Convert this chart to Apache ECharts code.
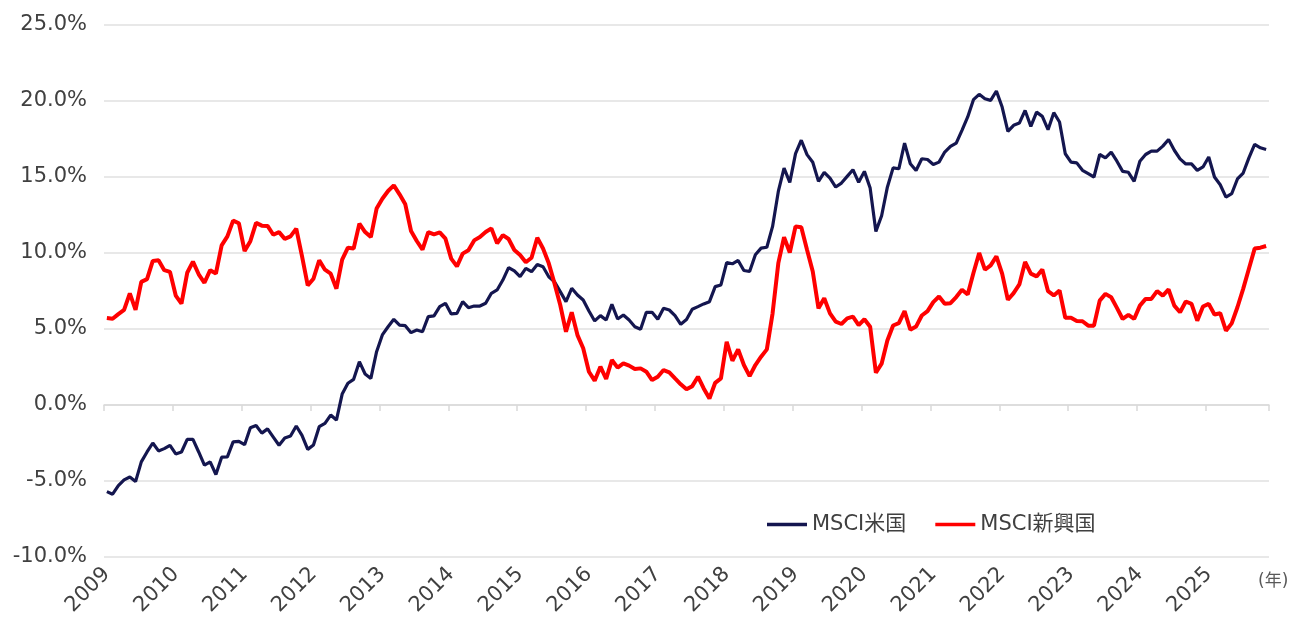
<!DOCTYPE html>
<html>
<head>
<meta charset="utf-8">
<script src="https://cdn.jsdelivr.net/npm/echarts@6/dist/echarts.min.js"></script>
<style>
html,body{margin:0;padding:0;background:#fff;}
#main{width:1290px;height:621px;}
</style>
</head>
<body>
<div id="main"></div>
<script>
// 月次データ 2009/01 ～ 2025/11 (%)
var years = [2009, 2010, 2011, 2012, 2013, 2014, 2015, 2016, 2017, 2018, 2019, 2020, 2021, 2022, 2023, 2024, 2025];

var msciUS = [
    -5.70, -5.87, -5.30, -4.93, -4.74, -5.04, -3.74, -3.09, -2.50, -3.02,
    -2.87, -2.65, -3.22, -3.09, -2.26, -2.26, -3.09, -3.96, -3.74, -4.57,
    -3.43, -3.41, -2.43, -2.39, -2.61, -1.50, -1.35, -1.85, -1.57, -2.11,
    -2.65, -2.17, -2.04, -1.38, -2.00, -2.92, -2.63, -1.43, -1.21, -0.66,
    -0.99, 0.72, 1.43, 1.69, 2.85, 2.04, 1.75, 3.51, 4.61, 5.15,
    5.64, 5.26, 5.22, 4.76, 4.93, 4.82, 5.81, 5.86, 6.47, 6.69,
    5.99, 6.03, 6.80, 6.40, 6.51, 6.51, 6.69, 7.35, 7.57, 8.22,
    9.04, 8.82, 8.44, 8.99, 8.77, 9.25, 9.10, 8.44, 8.11, 7.46,
    6.80, 7.68, 7.24, 6.91, 6.18, 5.53, 5.88, 5.59, 6.62, 5.66,
    5.92, 5.59, 5.15, 4.98, 6.10, 6.10, 5.64, 6.36, 6.25, 5.88,
    5.31, 5.62, 6.30, 6.47, 6.65, 6.80, 7.79, 7.90, 9.37, 9.29,
    9.51, 8.85, 8.78, 9.88, 10.32, 10.38, 11.75, 14.05, 15.59, 14.65,
    16.54, 17.42, 16.47, 15.97, 14.71, 15.31, 14.93, 14.34, 14.60, 15.04,
    15.48, 14.65, 15.37, 14.27, 11.42, 12.45, 14.33, 15.60, 15.54, 17.23,
    15.87, 15.43, 16.20, 16.15, 15.82, 15.98, 16.64, 17.01, 17.23, 18.07,
    18.95, 20.09, 20.44, 20.15, 20.04, 20.66, 19.60, 18.00, 18.40, 18.55,
    19.38, 18.33, 19.27, 18.99, 18.11, 19.23, 18.62, 16.53, 15.98, 15.93,
    15.44, 15.22, 15.00, 16.48, 16.26, 16.63, 16.04, 15.37, 15.31, 14.71,
    16.04, 16.48, 16.70, 16.70, 17.03, 17.47, 16.76, 16.19, 15.86, 15.86,
    15.44, 15.66, 16.32, 15.00, 14.49, 13.68, 13.90, 14.87, 15.26, 16.26,
    17.14, 16.92, 16.81
];

var msciEM = [
    5.72, 5.67, 5.98, 6.26, 7.35, 6.26, 8.10, 8.28, 9.48, 9.52,
    8.87, 8.76, 7.20, 6.67, 8.70, 9.43, 8.60, 8.04, 8.87, 8.65,
    10.50, 11.09, 12.13, 11.96, 10.13, 10.78, 11.98, 11.80, 11.78, 11.20,
    11.37, 10.93, 11.09, 11.60, 9.80, 7.87, 8.31, 9.52, 8.90, 8.64,
    7.65, 9.56, 10.35, 10.29, 11.93, 11.38, 11.05, 12.92, 13.57, 14.08,
    14.45, 13.86, 13.20, 11.45, 10.79, 10.22, 11.38, 11.23, 11.36, 10.94,
    9.63, 9.12, 9.96, 10.18, 10.83, 11.05, 11.38, 11.62, 10.64, 11.18,
    10.92, 10.20, 9.87, 9.39, 9.69, 11.00, 10.30, 9.32, 8.00, 6.58,
    4.82, 6.10, 4.60, 3.73, 2.19, 1.60, 2.52, 1.71, 2.96, 2.46,
    2.74, 2.59, 2.37, 2.41, 2.19, 1.64, 1.86, 2.30, 2.15, 1.75,
    1.36, 1.03, 1.24, 1.86, 1.09, 0.43, 1.46, 1.75, 4.16, 2.91,
    3.66, 2.63, 1.90, 2.63, 3.18, 3.66, 6.03, 9.33, 11.04, 10.03,
    11.75, 11.70, 10.21, 8.78, 6.36, 7.02, 6.03, 5.48, 5.33, 5.70,
    5.81, 5.26, 5.64, 5.15, 2.12, 2.72, 4.24, 5.23, 5.38, 6.18,
    4.95, 5.16, 5.89, 6.18, 6.77, 7.14, 6.66, 6.70, 7.10, 7.58,
    7.27, 8.68, 10.00, 8.90, 9.19, 9.78, 8.64, 6.92, 7.36, 7.93,
    9.41, 8.64, 8.46, 8.92, 7.49, 7.21, 7.54, 5.74, 5.74, 5.53,
    5.51, 5.22, 5.22, 6.87, 7.31, 7.09, 6.39, 5.66, 5.93, 5.66,
    6.54, 6.98, 6.98, 7.49, 7.20, 7.60, 6.54, 6.10, 6.81, 6.65,
    5.55, 6.48, 6.65, 5.95, 6.04, 4.89, 5.37, 6.43, 7.64, 8.96,
    10.29, 10.35, 10.46
];

var yTicks = [-10, -5, 0, 5, 10, 15, 20, 25];

var months = [];
for (var i = 0; i < years.length; i++) {
    for (var m = 1; m <= 12; m++) {
        months.push(years[i] + '/' + (m < 10 ? '0' + m : m));
    }
}
months = months.slice(0, msciUS.length);

var font = "'DejaVu Sans', 'Noto Sans CJK JP', sans-serif";
var chartDom = document.getElementById('main');
var myChart = echarts.init(chartDom);
var option;

option = {
    animation: false,
    textStyle: { fontFamily: font },
    grid: {
        left: 104,
        right: 21,
        top: 25,
        bottom: 64
    },
    legend: {
        left: 762,
        top: 509,
        icon: 'rect',
        itemWidth: 40,
        itemHeight: 3.5,
        itemGap: 29,
        textStyle: { fontSize: 21, color: '#404040', fontFamily: font },
        data: ['MSCI米国', 'MSCI新興国']
    },
    xAxis: [
        {
            type: 'category',
            data: months,
            boundaryGap: true,
            position: 'bottom',
            axisLine: { show: false, onZero: false },
            axisTick: { show: false },
            axisLabel: {
                interval: 11,
                rotate: 45,
                margin: 14,
                fontSize: 21,
                color: '#404040',
                fontFamily: font,
                formatter: function (v) { return v.slice(0, 4); }
            },
            splitLine: { show: false }
        },
        {
            type: 'category',
            data: months,
            boundaryGap: true,
            position: 'top',
            axisLine: { show: true, onZero: true, lineStyle: { color: '#d9d9d9', width: 1.5 } },
            axisTick: { show: true, interval: 11, inside: true, length: 6, lineStyle: { color: '#d9d9d9', width: 1.5 } },
            axisLabel: { show: false },
            splitLine: { show: false }
        }
    ],
    yAxis: {
        type: 'value',
        min: yTicks[0],
        max: yTicks[yTicks.length - 1],
        interval: 5,
        axisLine: { show: false },
        axisTick: { show: false },
        axisLabel: {
            margin: 17,
            fontSize: 21,
            color: '#404040',
            fontFamily: font,
            formatter: function (v) { return v.toFixed(1) + '%'; }
        },
        splitLine: { lineStyle: { color: '#e0e0e0', width: 1.5 } }
    },
    graphic: [
        {
            type: 'text',
            left: 1258,
            top: 573,
            style: { text: '(年)', fontSize: 17, fill: '#595959', fontFamily: font }
        }
    ],
    series: [
        {
            name: 'MSCI米国',
            type: 'line',
            xAxisIndex: 0,
            data: msciUS,
            symbol: 'none',
            color: '#14164f',
            lineStyle: { width: 3.2, color: '#14164f' }
        },
        {
            name: 'MSCI新興国',
            type: 'line',
            xAxisIndex: 0,
            data: msciEM,
            symbol: 'none',
            color: '#ff0000',
            lineStyle: { width: 4, color: '#ff0000' }
        }
    ]
};

option && myChart.setOption(option);
</script>
</body>
</html>
